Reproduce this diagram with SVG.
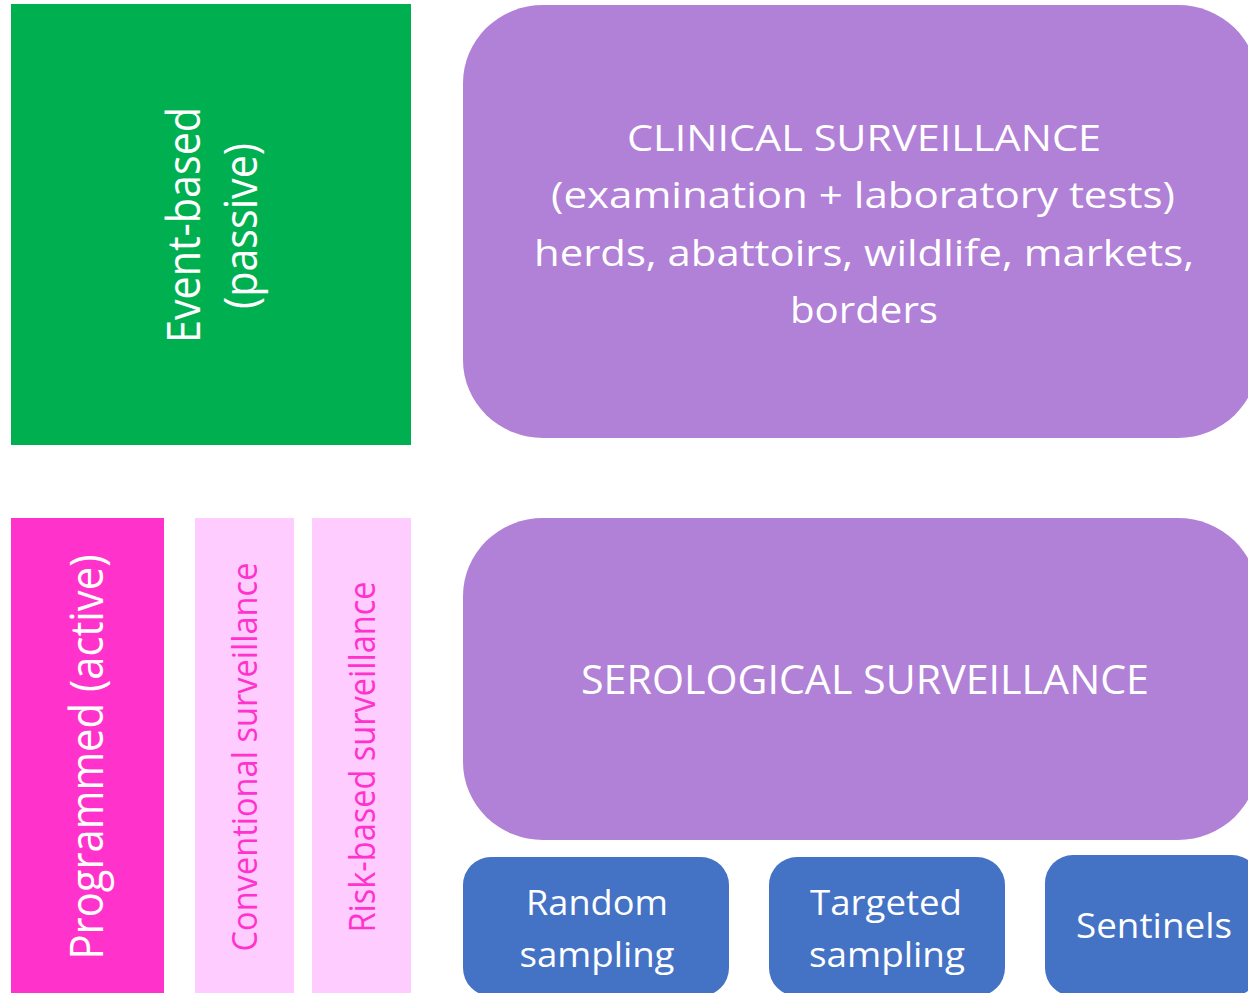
<svg xmlns="http://www.w3.org/2000/svg" width="1248" height="993" viewBox="0 0 1248 993">
<style>
text{font-family:"Open Sans","Noto Sans","Liberation Sans",sans-serif;fill:#FFFFFF}
.pk{fill:#FF33CC}
.green{fill:#00B050}
.purple{fill:#B180D7}
.mag{fill:#FF33CC}
.lpink{fill:#FFCCFF}
.blue{fill:#4472C4}
</style>
<rect width="1248" height="993" fill="#FFFFFF"/>
<g id="event-based">
<rect class="green" x="11" y="4" width="400" height="441"/>
<text transform="translate(200,225) rotate(-90)" font-size="45" text-anchor="middle" textLength="236" lengthAdjust="spacingAndGlyphs">Event-based</text>
<text transform="translate(257,226) rotate(-90)" font-size="45" text-anchor="middle" textLength="166" lengthAdjust="spacingAndGlyphs">(passive)</text>
</g>
<g id="clinical">
<rect class="purple" x="463" y="5" width="795" height="433" rx="80" ry="78"/>
<text x="864" y="151" font-size="36" text-anchor="middle" textLength="474" lengthAdjust="spacingAndGlyphs">CLINICAL SURVEILLANCE</text>
<text x="863" y="208" font-size="36" text-anchor="middle" textLength="624" lengthAdjust="spacingAndGlyphs">(examination + laboratory tests)</text>
<text x="864" y="266" font-size="36" text-anchor="middle" textLength="660" lengthAdjust="spacingAndGlyphs">herds, abattoirs, wildlife, markets,</text>
<text x="864" y="323" font-size="36" text-anchor="middle" textLength="148" lengthAdjust="spacingAndGlyphs">borders</text>
</g>
<g id="programmed">
<rect class="mag" x="11" y="518" width="153" height="480"/>
<text transform="translate(103,757) rotate(-90)" font-size="46" text-anchor="middle" textLength="405" lengthAdjust="spacingAndGlyphs">Programmed (active)</text>
</g>
<g id="conventional">
<rect class="lpink" x="195" y="518" width="99" height="480"/>
<text class="pk" transform="translate(257,757) rotate(-90)" font-size="35" text-anchor="middle" textLength="389" lengthAdjust="spacingAndGlyphs">Conventional surveillance</text>
</g>
<g id="risk-based">
<rect class="lpink" x="312" y="518" width="99" height="480"/>
<text class="pk" transform="translate(375,757) rotate(-90)" font-size="36" text-anchor="middle" textLength="351" lengthAdjust="spacingAndGlyphs">Risk-based surveillance</text>
</g>
<g id="serological">
<rect class="purple" x="463" y="518" width="795" height="322" rx="80" ry="78"/>
<text x="865" y="694" font-size="40" text-anchor="middle" textLength="568" lengthAdjust="spacingAndGlyphs">SEROLOGICAL SURVEILLANCE</text>
</g>
<g id="random">
<rect class="blue" x="463" y="857" width="266" height="139" rx="28" ry="28"/>
<text x="597" y="915" font-size="35" text-anchor="middle" textLength="142" lengthAdjust="spacingAndGlyphs">Random</text>
<text x="597" y="967" font-size="35" text-anchor="middle" textLength="155" lengthAdjust="spacingAndGlyphs">sampling</text>
</g>
<g id="targeted">
<rect class="blue" x="769" y="857" width="236" height="139" rx="28" ry="28"/>
<text x="886" y="915" font-size="35" text-anchor="middle" textLength="152" lengthAdjust="spacingAndGlyphs">Targeted</text>
<text x="887" y="967" font-size="35" text-anchor="middle" textLength="156" lengthAdjust="spacingAndGlyphs">sampling</text>
</g>
<g id="sentinels">
<rect class="blue" x="1045" y="855" width="215" height="141" rx="28" ry="28"/>
<text x="1154" y="938" font-size="35" text-anchor="middle" textLength="156" lengthAdjust="spacingAndGlyphs">Sentinels</text>
</g>
<g id="connectors"></g>
</svg>
